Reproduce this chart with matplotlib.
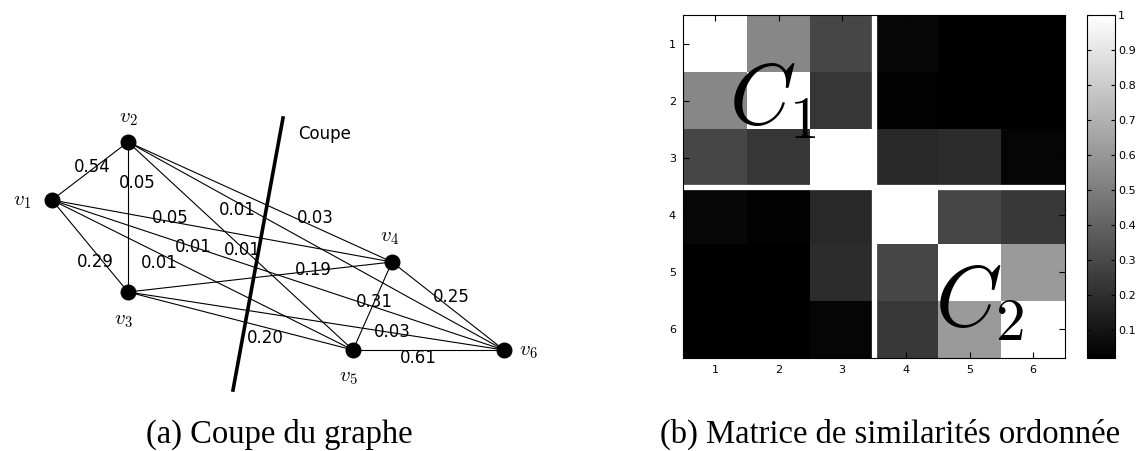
import numpy as np
import matplotlib
matplotlib.use('Agg')
import matplotlib.pyplot as plt

plt.rcParams['mathtext.fontset'] = 'cm'

# graph (a): node layout in pixel units of the left panel
node_names = ['$v_1$', '$v_2$', '$v_3$', '$v_4$', '$v_5$', '$v_6$']
node_x = [52, 128, 128, 392, 353, 504]
node_y = [200, 142, 292, 262, 350, 350]
name_x = [22, 128, 123, 390, 348, 528]
name_y = [201, 118, 320, 237, 377, 351]

edge_weights = ['0.54', '0.05', '0.29', '0.05', '0.01', '0.03', '0.01', '0.01',
                '0.01', '0.19', '0.31', '0.25', '0.20', '0.03', '0.61']
weight_x = [92, 137, 95, 170, 237, 315, 193, 242, 159, 313, 374, 451, 265, 392, 418]
weight_y = [167, 183, 262, 218, 210, 218, 247, 250, 263, 270, 302, 297, 338, 332, 358]

cut_x = [283, 233]
cut_y = [118, 390]

# matrix (b): ordered similarity matrix
labels = ['1', '2', '3', '4', '5', '6']
sim = np.array([
    [1.00, 0.54, 0.29, 0.05, 0.02, 0.02],
    [0.54, 1.00, 0.23, 0.03, 0.02, 0.02],
    [0.29, 0.23, 1.00, 0.18, 0.19, 0.04],
    [0.05, 0.03, 0.18, 1.00, 0.29, 0.24],
    [0.02, 0.02, 0.19, 0.29, 1.00, 0.61],
    [0.02, 0.02, 0.04, 0.24, 0.61, 1.00],
])
cbar_ticks = [0.1, 0.2, 0.3, 0.4, 0.5, 0.6, 0.7, 0.8, 0.9, 1.0]
cbar_labels = ['0.1', '0.2', '0.3', '0.4', '0.5', '0.6', '0.7', '0.8', '0.9', '1']

W, H = 1139, 451
fig = plt.figure(figsize=(W / 100, H / 100), dpi=100)

# ---- left: graph cut
ax = fig.add_axes([0, 0, 570 / W, 1])
ax.set_xlim(0, 570)
ax.set_ylim(H, 0)
ax.axis('off')

n = len(node_x)
for i in range(n):
    for j in range(i + 1, n):
        ax.plot([node_x[i], node_x[j]], [node_y[i], node_y[j]], c='black', lw=0.8, zorder=1)
ax.plot(cut_x, cut_y, c='black', lw=2.6, zorder=2)
ax.scatter(node_x, node_y, s=110, c='black', zorder=3)
for name, x, y in zip(node_names, name_x, name_y):
    ax.text(x, y, name, fontsize=15, ha='center', va='center')
for w, x, y in zip(edge_weights, weight_x, weight_y):
    ax.text(x, y, w, fontsize=12, ha='center', va='center', family='DejaVu Sans')
ax.text(298, 134, 'Coupe', fontsize=12, ha='left', va='center', family='DejaVu Sans')

# ---- right: similarity matrix
ax2 = fig.add_axes([683 / W, (H - 358) / H, 382 / W, 343 / H])
im = ax2.imshow(sim, cmap='gray', vmin=sim.min(), vmax=1, aspect='auto',
                interpolation='nearest', extent=[0.5, 6.5, 6.5, 0.5])
ax2.axvline(3.5, color='white', lw=3.8)
ax2.axhline(3.5, color='white', lw=3.8)
ax2.set_xticks(range(1, 7))
ax2.set_yticks(range(1, 7))
ax2.set_xticklabels(labels)
ax2.set_yticklabels(labels)
ax2.tick_params(direction='in', top=True, right=True, length=4, labelsize=8, pad=5)
for s in ax2.spines.values():
    s.set_linewidth(0.8)
ax2.text(1.22, 2.42, '$C_1$', fontsize=61, ha='left', va='baseline')
ax2.text(4.46, 5.95, '$C_2$', fontsize=61, ha='left', va='baseline')

cax = fig.add_axes([1087 / W, (H - 358) / H, 28 / W, 343 / H])
cb = fig.colorbar(im, cax=cax)
cb.set_ticks(cbar_ticks)
cb.set_ticklabels(cbar_labels)
cax.tick_params(direction='in', left=True, right=True, length=3, labelsize=8, pad=2)
cb.outline.set_linewidth(0.8)

# ---- captions
fig.text(279 / W, 1 - 443 / H, '(a) Coupe du graphe', fontsize=23.5,
         family='Liberation Serif', ha='center', va='baseline')
fig.text(890 / W, 1 - 443 / H, '(b) Matrice de similarités ordonnée', fontsize=23.5,
         family='Liberation Serif', ha='center', va='baseline')

fig.savefig('out.png', dpi=100)
